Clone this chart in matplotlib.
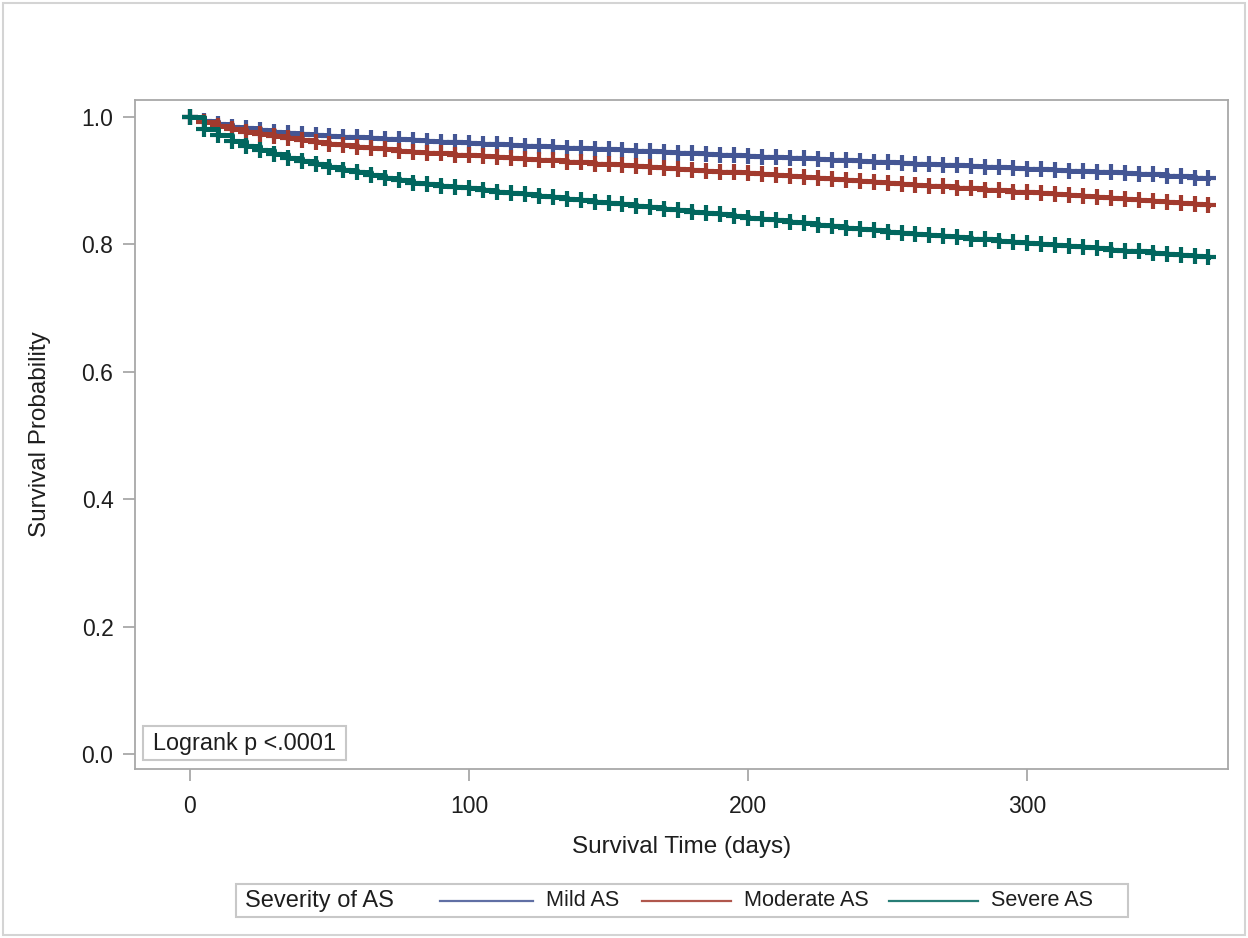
import matplotlib.pyplot as plt
from matplotlib.lines import Line2D
from matplotlib.patches import Rectangle

plt.rcParams['font.family'] = ['Liberation Sans', 'DejaVu Sans']

# follow-up days and Kaplan-Meier estimates per severity group
days = list(range(0, 366, 5))

mild = [1.000, 0.993, 0.989, 0.985, 0.982, 0.979, 0.977, 0.975, 0.973, 0.971,
        0.970, 0.969, 0.968, 0.967, 0.966, 0.965, 0.964, 0.962, 0.961, 0.960,
        0.959, 0.958, 0.957, 0.956, 0.955, 0.954, 0.953, 0.952, 0.951, 0.950,
        0.949, 0.948, 0.947, 0.946, 0.945, 0.944, 0.943, 0.942, 0.941, 0.940,
        0.939, 0.938, 0.937, 0.936, 0.935, 0.934, 0.933, 0.932, 0.931, 0.930,
        0.929, 0.928, 0.927, 0.926, 0.925, 0.924, 0.923, 0.922, 0.921, 0.920,
        0.919, 0.918, 0.917, 0.916, 0.915, 0.914, 0.913, 0.912, 0.911, 0.910,
        0.908, 0.907, 0.905, 0.904]

moderate = [1.000, 0.992, 0.986, 0.981, 0.977, 0.973, 0.970, 0.967, 0.964, 0.961,
            0.958, 0.956, 0.953, 0.951, 0.949, 0.947, 0.945, 0.944, 0.943, 0.941,
            0.940, 0.939, 0.937, 0.936, 0.934, 0.933, 0.932, 0.930, 0.929, 0.927,
            0.926, 0.924, 0.923, 0.922, 0.920, 0.919, 0.917, 0.916, 0.914, 0.913,
            0.912, 0.910, 0.909, 0.907, 0.906, 0.904, 0.903, 0.901, 0.900, 0.898,
            0.897, 0.895, 0.894, 0.892, 0.891, 0.889, 0.888, 0.886, 0.885, 0.883,
            0.882, 0.880, 0.879, 0.877, 0.876, 0.874, 0.873, 0.871, 0.869, 0.868,
            0.866, 0.865, 0.863, 0.862]

severe = [1.000, 0.981, 0.971, 0.963, 0.955, 0.948, 0.942, 0.936, 0.931, 0.926,
          0.921, 0.917, 0.913, 0.909, 0.905, 0.901, 0.897, 0.895, 0.892, 0.890,
          0.888, 0.885, 0.883, 0.881, 0.879, 0.876, 0.874, 0.872, 0.870, 0.867,
          0.865, 0.863, 0.861, 0.858, 0.856, 0.854, 0.851, 0.849, 0.847, 0.844,
          0.842, 0.840, 0.838, 0.835, 0.833, 0.831, 0.829, 0.826, 0.824, 0.822,
          0.820, 0.818, 0.816, 0.815, 0.813, 0.811, 0.809, 0.808, 0.806, 0.804,
          0.802, 0.801, 0.799, 0.797, 0.796, 0.794, 0.792, 0.790, 0.789, 0.787,
          0.785, 0.784, 0.782, 0.780]

groups = ['Mild AS', 'Moderate AS', 'Severe AS']
colors = ['#445694', '#A23A2E', '#01665E']
curves = [mild, moderate, severe]

xticks = [0, 100, 200, 300]
yticks = [0.0, 0.2, 0.4, 0.6, 0.8, 1.0]

W, H = 1248, 938
fig = plt.figure(figsize=(W / 100, H / 100), dpi=100)


def fx(px):
    return px / W


def fy(py):
    return 1 - py / H


ink = '#1e1e1e'
grey = '#a8a8a8'

ax = fig.add_axes([fx(135), fy(769), fx(1228) - fx(135), fy(100) - fy(769)])

for surv, col in zip(curves, colors):
    ax.step(days, surv, where='post', color=col, lw=3.6, zorder=3)
    ax.plot(days, surv, ls='none', marker='+', ms=11, mew=3, color=col, zorder=3)

ax.set_xlim(-19.7, 372)
ax.set_ylim(-0.0235, 1.0267)
ax.set_xticks(xticks)
ax.set_yticks(yticks)
ax.set_yticklabels(['%.1f' % v for v in yticks])

for sp in ax.spines.values():
    sp.set_color(grey)
    sp.set_linewidth(1.3)
ax.tick_params(colors=grey, labelcolor=ink, labelsize=16.5, length=8.5, width=1.3)
ax.tick_params(axis='x', pad=10)
ax.tick_params(axis='y', pad=7)

ax.set_xlabel('Survival Time (days)', fontsize=17.5, color=ink, labelpad=13)
ax.set_ylabel('Survival Probability', fontsize=17.5, color=ink, labelpad=22)

# log-rank note in the lower left corner of the plot area
fig.add_artist(Rectangle((fx(143), fy(760)), fx(346) - fx(143), fy(726) - fy(760),
                         transform=fig.transFigure, fc='white', ec='#c8c8c8', lw=1.5,
                         zorder=4))
fig.text(fx(153), fy(743.5), 'Logrank p <.0001', fontsize=16.8, color=ink,
         va='center', ha='left', zorder=5)

# legend strip below the axes
fig.add_artist(Rectangle((fx(236), fy(917)), fx(1128) - fx(236), fy(884) - fy(917),
                         transform=fig.transFigure, fc='white', ec='#c8c8c8', lw=1.5))
ly = fy(900.5)
fig.text(fx(245), ly, 'Severity of AS', fontsize=17, color=ink, va='center')
seg = [(440, 533), (642, 731), (889, 978)]
for (a, b), name, col in zip(seg, groups, colors):
    fig.add_artist(Line2D([fx(a), fx(b)], [ly, ly], color=col, lw=1.6, alpha=0.85,
                          transform=fig.transFigure))
    fig.text(fx(b + 13), ly, name, fontsize=15.6, color=ink, va='center')

# thin frame round the whole graph
fig.add_artist(Rectangle((fx(3), fy(935)), fx(1245) - fx(3), fy(3) - fy(935),
                         transform=fig.transFigure, fill=False, ec='#d4d4d4', lw=1.5))

fig.savefig('out.png', dpi=100)
